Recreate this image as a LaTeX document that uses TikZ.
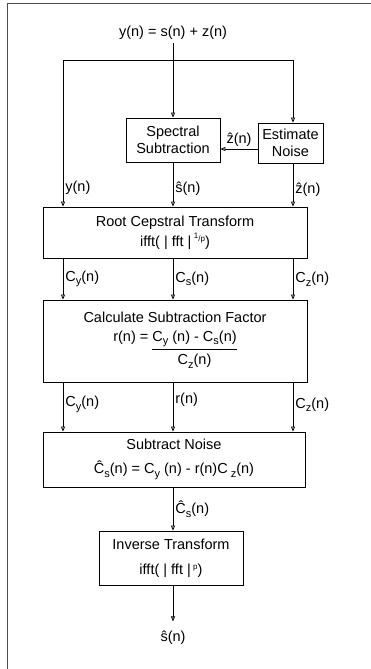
\documentclass[tikz,border=0pt]{standalone}
\usepackage{fontspec}
\setmainfont{Liberation Sans}
\usetikzlibrary{arrows.meta}

\newcommand\sbs[1]{\raisebox{-3.5pt}{\fontsize{11}{11}\selectfont #1}}
\newcommand\sps[1]{\raisebox{5pt}{\fontsize{8}{8}\selectfont #1}}

\begin{document}
\begin{tikzpicture}[
x=1pt, y=-1pt,
>={Triangle[open,length=5pt,width=4pt]},
line width=0.8pt,
every node/.style={
font=\fontsize{14.5}{17}\selectfont
},
box/.style={
draw,
align=center,
inner sep=0pt
},
lbl/.style={
inner sep=2pt
}
]

\useasboundingbox (0,0) rectangle (371,669);
\draw[black!70, line width=1pt] (7,669) -- (7,4) -- (371,4);

\node (in) at (173,33)
{y(n) = s(n) + z(n)};

\node[box, minimum width=94, minimum height=44] (ss) at (173,140)
{Spectral\\Subtraction};

\node[box, minimum width=65, minimum height=40] (en) at (290.5,143)
{Estimate\\Noise};

\node[box, minimum width=264, minimum height=51] (rct) at (175,232.5)
{Root Cepstral Transform\\[3pt]
ifft( | fft |\,\sps{\raisebox{3pt}{1}/p})};

\node[box, minimum width=264, minimum height=82] (csf) at (175,341)
{Calculate Subtraction Factor\\[2pt]
r(n) = \begin{tabular}[t]{@{}c@{}}C\sbs{y} (n) - C\sbs{s}(n)\\[2pt]\hline
\rule{0pt}{16pt}C\sbs{z}(n)\end{tabular}};

\node[box, minimum width=262, minimum height=55] (sn) at (174,459.5)
{Subtract Noise\\[7pt]
Ĉ\sbs{s}(n) = C\sbs{y} (n) - r(n)C\sbs{ z}(n)};

\node[box, minimum width=144, minimum height=54] (it) at (171,558)
{Inverse Transform\\[8pt]
ifft( | fft |\,\sps{p})};

\node (out) at (173,638)
{ŝ(n)};

\coordinate (br) at (173,60);
\coordinate (bl) at (63,60);
\coordinate (brr) at (293,60);

\draw (in) -- (br);
\draw (bl) -- (brr);
\draw[->] (br) -- (br |- ss.north);
\draw[->] (brr) -- (brr |- en.north);
\draw[->] (en.west |- 0,149) -- node[above, lbl] {ẑ(n)} (ss.east |- 0,149);

\draw[->] (bl) -- node[right, lbl, pos=0.87] {y(n)} (bl |- rct.north);
\draw[->] (ss) -- node[right, lbl, pos=0.6] {ŝ(n)} (br |- rct.north);
\draw[->] (brr |- en.south) -- node[right, lbl, pos=0.6] {ẑ(n)} (brr |- rct.north);

\draw[->] (bl |- rct.south) -- node[right, lbl, pos=0.5] {C\sbs{y}(n)} (bl |- csf.north);
\draw[->] (br |- rct.south) -- node[right, lbl, pos=0.5] {C\sbs{s}(n)} (br |- csf.north);
\draw[->] (brr |- rct.south) -- node[right, lbl, pos=0.5] {C\sbs{z}(n)} (brr |- csf.north);

\draw[->] (bl |- csf.south) -- node[right, lbl, pos=0.45] {C\sbs{y}(n)} (bl |- sn.north);
\draw[->] (br |- csf.south) -- node[right, lbl, pos=0.35] {r(n)} (br |- sn.north);
\draw[->] (brr |- csf.south) -- node[right, lbl, pos=0.45] {C\sbs{z}(n)} (brr |- sn.north);

\draw[->] (br |- sn.south) -- node[right, lbl, pos=0.5] {Ĉ\sbs{s}(n)} (br |- it.north);
\draw[->, shorten >=6pt] (br |- it.south) -- (out);

\end{tikzpicture}
\end{document}
